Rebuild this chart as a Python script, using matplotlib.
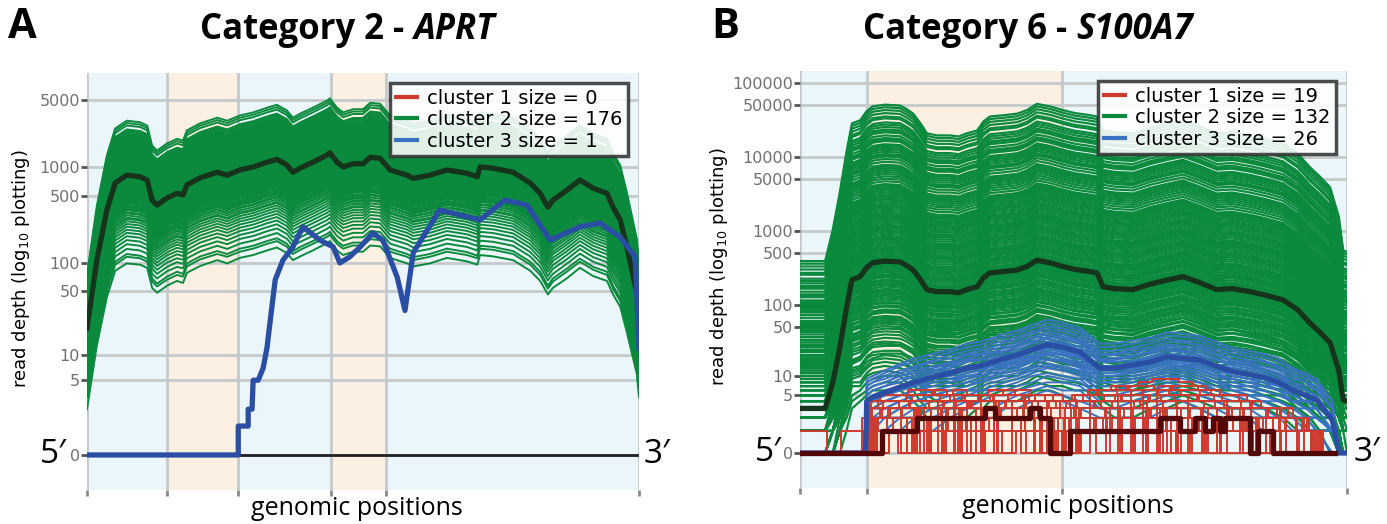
import numpy as np
import matplotlib
matplotlib.use("Agg")
import matplotlib.pyplot as plt
from matplotlib.lines import Line2D
from matplotlib.transforms import blended_transform_factory

# ---------------- data ----------------
# positions are % of gene length (5' -> 3')
# Panel A: Category 2 - APRT
a_bounds = [0, 14.5, 27.4, 44.2, 54.2, 100]
a_shade = ["blue", "orange", "blue", "orange", "blue"]
a_yticks = [0, 5, 10, 50, 100, 500, 1000, 5000]

a_med_pos = [0, 1.8, 3.6, 5.1, 7.2, 9.6, 10.9, 11.8, 12.7, 14.5, 16.3, 17.4, 18.1, 20.5,
             23.6, 25.4, 27.7, 30.1, 32.6, 34.4, 36.2, 37.3, 38.6, 40.9, 43.5, 44.0, 45.3,
             46.4, 48.2, 50.0, 51.3, 53.1, 54.9, 58.0, 59.1, 62.1, 65.2, 68.8, 70.7, 71.2,
             73.6, 77.2, 80.3, 82.1, 83.5, 84.4, 86.9, 89.3, 91.7, 94.2, 95.3, 96.6, 97.8,
             99.6, 100]
a_med_val = [20, 107, 355, 680, 820, 790, 730, 450, 400, 475, 530, 510, 650, 770,
             880, 820, 930, 1000, 1120, 1200, 1050, 880, 970, 1120, 1330, 1400, 1120,
             1000, 1080, 1080, 1260, 1230, 930, 820, 760, 820, 930, 860, 790, 1000,
             970, 880, 680, 530, 380, 450, 570, 730, 600, 530, 380, 280, 146,
             48, 25]

a_green_factors = [
    0.12, 0.14, 0.15, 0.17, 0.19, 0.21, 0.23, 0.25, 0.27, 0.29,
    0.31, 0.33, 0.35, 0.36, 0.38, 0.40, 0.41, 0.43, 0.44, 0.46,
    0.47, 0.48, 0.50, 0.51, 0.52, 0.53, 0.55, 0.56, 0.57, 0.58,
    0.59, 0.60, 0.61, 0.62, 0.63, 0.64, 0.65, 0.66, 0.67, 0.68,
    0.69, 0.70, 0.71, 0.72, 0.73, 0.74, 0.75, 0.76, 0.77, 0.78,
    0.79, 0.80, 0.81, 0.82, 0.83, 0.84, 0.85, 0.86, 0.87, 0.88,
    0.89, 0.90, 0.91, 0.92, 0.93, 0.94, 0.95, 0.96, 0.97, 0.98,
    0.99, 1.00, 1.01, 1.02, 1.03, 1.04, 1.05, 1.06, 1.07, 1.08,
    1.09, 1.10, 1.11, 1.12, 1.13, 1.14, 1.15, 1.16, 1.17, 1.18,
    1.19, 1.20, 1.21, 1.22, 1.23, 1.24, 1.25, 1.26, 1.27, 1.28,
    1.29, 1.30, 1.31, 1.32, 1.33, 1.34, 1.35, 1.36, 1.37, 1.38,
    1.39, 1.40, 1.42, 1.44, 1.46, 1.48, 1.50, 1.52, 1.54, 1.56,
    1.58, 1.60, 1.62, 1.64, 1.66, 1.68, 1.70, 1.72, 1.74, 1.76,
    1.78, 1.80, 1.82, 1.84, 1.86, 1.88, 1.90, 1.92, 1.94, 1.96,
    1.98, 2.00, 2.02, 2.04, 2.06, 2.08, 2.10, 2.12, 2.14, 2.16,
    2.18, 2.20, 2.22, 2.24, 2.26, 2.28, 2.30, 2.32, 2.35, 2.38,
    2.41, 2.44, 2.47, 2.50, 2.55, 2.60, 2.70, 2.80, 3.00, 3.30,
    3.50, 3.70, 2.90, 2.65, 0.45, 0.54]

a_blue_pos = [0, 27.4, 27.4, 29.2, 29.2, 29.9, 30.1, 31.0, 31.9, 32.6, 33.5, 34.1, 35.5,
              37.3, 39.1, 42.2, 44.6, 45.8, 47.6, 49.5, 51.8, 53.6, 56.2, 57.6, 59.1,
              63.9, 71.2, 75.7, 79.7, 83.9, 89.3, 92.9, 96.6, 99.3, 100]
a_blue_val = [0, 0, 1, 1, 2, 2, 5, 5, 7, 12, 34, 66, 106,
              146, 237, 172, 146, 99, 115, 146, 205, 172, 70, 31, 127,
              355, 280, 450, 400, 172, 237, 260, 185, 115, 12]
a_red_pos = [0, 100]
a_red_val = [0, 0]
a_sizes = [0, 176, 1]

# Panel B: Category 6 - S100A7
b_bounds = [0, 12.2, 47.9, 100]
b_shade = ["blue", "orange", "blue"]
b_yticks = [0, 5, 10, 50, 100, 500, 1000, 5000, 10000, 50000, 100000]

b_med_pos = [0, 2.5, 4.6, 6.0, 7.3, 8.5, 9.5, 11.0, 12.2, 13.3, 15.5, 18.3, 19.5, 20.7,
             22.0, 23.2, 25.0, 27.4, 29.0, 30.5, 32.4, 33.5, 34.7, 37.0, 39.7, 41.5,
             43.3, 45.7, 48.0, 50.3, 52.5, 54.3, 55.4, 57.5, 60.9, 64.0, 67.0, 70.0,
             73.0, 76.2, 79.0, 82.3, 85.0, 88.3, 91.0, 93.2, 95.0, 96.9, 98.5, 99.3, 100]
b_med_val = [3, 3, 3, 8, 26, 90, 218, 240, 320, 370, 390, 380, 340, 295,
             220, 160, 150, 150, 145, 160, 175, 230, 270, 280, 295, 330,
             400, 370, 330, 300, 285, 270, 175, 165, 160, 190, 215, 240,
             200, 160, 165, 150, 135, 116, 85, 56, 42, 30, 12, 4.2, 4]

b_green_factors = [
    0.015, 0.02, 0.025, 0.03, 0.035, 0.04, 0.045, 0.05, 0.055, 0.06,
    0.07, 0.075, 0.08, 0.09, 0.1, 0.11, 0.12, 0.13, 0.14, 0.15,
    0.16, 0.17, 0.18, 0.2, 0.21, 0.22, 0.24, 0.25, 0.27, 0.28,
    0.3, 0.32, 0.34, 0.36, 0.38, 0.4, 0.42, 0.45, 0.48, 0.5,
    0.53, 0.56, 0.6, 0.63, 0.66, 0.7, 0.74, 0.78, 0.82, 0.86,
    0.9, 0.95, 1.0, 1.05, 1.1, 1.16, 1.22, 1.3, 1.38, 1.45,
    1.52, 1.6, 1.7, 1.8, 1.9, 2.0, 2.1, 2.2, 2.35, 2.5,
    2.65, 2.8, 2.95, 3.1, 3.3, 3.5, 3.7, 3.9, 4.1, 4.3,
    4.5, 4.8, 5.1, 5.4, 5.7, 6.0, 6.4, 6.8, 7.2, 7.6,
    8.0, 8.5, 9.0, 9.5, 10, 10.5, 11, 12, 13, 14,
    15, 16, 17, 18, 19, 20, 22, 24, 26, 27,
    28, 30, 32, 34, 36, 38, 42, 44, 46, 50,
    55, 58, 60, 65, 70, 75, 85, 90, 100, 110,
    120, 130]

b_blue_pos = [0, 12.0, 12.2, 13.3, 15.5, 18.3, 21.0, 24.3, 27.5, 30.5, 33.0, 35.3, 37.5,
              39.7, 42.5, 45.2, 48.0, 51.2, 54.8, 57.5, 60.9, 64.0, 67.1, 70.0, 73.1,
              76.0, 79.2, 82.0, 84.6, 87.5, 90.1, 92.5, 94.4, 97.3, 98.6, 100]
b_blue_val = [0, 0, 4, 4.7, 5.5, 6.8, 8, 9.6, 11, 13, 14, 16, 18,
              20, 24, 28, 26, 22, 13, 13, 14.5, 16, 19, 18, 17,
              14, 11.5, 10.5, 9.6, 8, 6, 5, 4.2, 1.8, 0, 0]
b_blue_factors = [0.15, 0.2, 0.25, 0.3, 0.35, 0.4, 0.45, 0.5, 0.55, 0.6, 0.65, 0.7, 0.75,
                  0.8, 0.85, 0.9, 1.0, 1.1, 1.2, 1.3, 1.4, 1.5, 1.65, 1.8, 2.0, 2.2]

# red cluster: per-line read depth in 40 equal bins along the gene, with per-line offset
b_red_lines = [
    [1,1,0,1,1, 2,3,3,4,4, 4,5,5,4,4, 3,3,4,4,2, 3,3,4,5,5, 6,6,5,5,4, 4,3,3,2,2, 1,1,1,0,0],
    [0,0,0,0,0, 1,2,2,3,3, 0,3,4,4,3, 3,2,2,3,0, 2,2,3,3,0, 4,4,5,4,4, 3,3,0,2,2, 2,1,0,0,0],
    [0,0,0,0,0, 3,4,4,5,5, 6,5,5,5,6, 6,5,4,4,3, 4,5,6,7,7, 8,9,9,8,7, 6,5,5,4,3, 3,2,1,0,0],
    [0,0,0,0,0, 0,1,1,2,2, 2,0,2,3,3, 2,2,0,1,1, 1,2,2,0,2, 3,3,3,2,0, 2,2,1,1,0, 1,0,0,0,0],
    [0,0,0,0,0, 2,2,3,3,0, 3,4,4,3,3, 4,4,3,0,2, 2,3,4,4,5, 5,4,0,4,4, 3,3,2,2,0, 2,1,1,0,0],
    [0,0,0,0,0, 1,1,0,2,2, 2,2,1,1,2, 2,0,2,1,0, 1,1,2,2,2, 1,0,2,2,1, 1,1,0,1,1, 0,0,0,0,0],
    [0,0,0,0,0, 4,5,5,6,6, 5,5,4,4,5, 6,6,5,4,4, 5,5,6,6,7, 7,6,6,5,5, 5,4,4,3,3, 2,2,1,0,0],
    [0,0,0,0,0, 2,3,0,3,4, 4,3,3,0,3, 3,4,2,2,0, 3,3,0,3,4, 4,5,4,0,3, 3,2,2,0,1, 1,1,0,0,0],
    [0,0,0,0,0, 0,2,2,2,3, 3,3,2,2,2, 3,3,2,0,0, 2,2,2,3,3, 3,2,2,0,2, 2,2,1,1,1, 0,0,0,0,0],
    [0,0,0,0,0, 3,3,4,4,4, 5,0,4,5,5, 5,4,4,3,3, 4,4,5,0,6, 6,7,6,6,5, 4,4,3,3,2, 2,1,1,0,0],
    [0,0,0,0,0, 1,1,2,0,1, 1,2,2,2,1, 0,1,1,1,0, 1,1,1,2,2, 2,2,1,1,1, 0,1,1,0,0, 0,0,0,0,0],
    [0,0,0,0,0, 2,2,3,3,3, 4,4,3,3,0, 4,5,5,4,3, 3,4,4,5,5, 4,4,3,3,0, 3,3,2,2,2, 1,1,0,0,0],
    [0,0,0,0,0, 0,0,1,1,1, 0,1,1,0,1, 1,1,0,0,0, 0,1,1,1,0, 1,1,1,0,1, 1,0,0,0,0, 0,0,0,0,0],
    [0,0,0,0,0, 3,4,4,3,0, 4,4,5,5,4, 3,3,0,4,4, 5,6,6,7,6, 0,6,7,7,6, 5,5,4,3,0, 3,2,1,0,0],
    [0,0,0,0,0, 2,2,2,0,2, 3,3,3,2,2, 2,3,3,2,0, 2,2,3,3,3, 0,3,3,3,2, 2,2,1,1,1, 1,0,0,0,0],
    [0,0,0,0,0, 1,2,2,2,3, 3,0,3,3,3, 2,2,2,0,1, 2,2,0,2,3, 3,3,2,2,2, 0,2,2,1,1, 0,0,0,0,0],
    [0,0,0,0,0, 4,4,4,5,5, 5,6,5,0,5, 4,4,5,5,4, 0,5,5,6,6, 6,5,5,5,4, 4,0,3,3,3, 2,2,1,0,0],
    [0,0,0,0,0, 2,3,3,3,2, 2,3,0,3,3, 3,2,2,2,0, 3,3,3,4,4, 3,3,0,3,3, 2,2,2,2,1, 1,1,0,0,0],
    [0,0,0,0,0, 1,1,1,2,0, 2,2,2,1,1, 1,2,2,1,0, 1,1,2,2,0, 2,2,2,2,1, 1,1,1,0,1, 1,0,0,0,0],
]
b_red_shift = [0.0, 0.9, -0.7, 1.3, -1.1, 0.4, -0.3, 1.0, -0.9, 0.6, -0.5, 1.2, -1.2, 0.2,
               0.8, -0.8, 0.5, -0.4, 1.1]
b_redmed_pos = [0, 15.0, 21.4, 33.8, 35.6, 42.0, 43.9, 45.7, 49.4, 65.8, 69.5, 72.2, 74.0,
                75.5, 76.8, 77.7, 82.3, 83.7, 86.5, 97.8]
b_redmed_val = [0, 1, 2, 3, 2, 3, 2, 0, 1, 2, 1, 2, 1,
                2, 1, 2, 0, 1, 0, 0]
b_sizes = [19, 132, 26]

# ---------------- style ----------------
C_GREEN = "#0b8a3e"
C_BLACK = "#16331b"
C_BLUE = "#3a73c3"
C_BLUE_MED = "#2a4ea3"
C_RED = "#cf3a2e"
C_RED_MED = "#520808"
SHADE = {"blue": "#eaf6f9", "orange": "#fcf0e3"}
GRID = "#c5c9cb"
TICKC = "#707070"
TICK_FONT = ["DejaVu Sans"]
TXT_FONT = ["Open Sans", "DejaVu Sans"]

fwd = lambda v: np.log10(np.maximum(v, -0.999) + 1)
inv = lambda y: 10 ** y - 1

W, H = 1387, 524
fig = plt.figure(figsize=(W / 100, H / 100), dpi=100)


def setup_axes(rect, bounds, shade, yticks, ylog_lim):
    ax = fig.add_axes(rect)
    ax.set_yscale("function", functions=(fwd, inv))
    ax.set_xlim(0, 100)
    ax.set_ylim(inv(ylog_lim[0]), inv(ylog_lim[1]))
    for (x0, x1), s in zip(zip(bounds[:-1], bounds[1:]), shade):
        ax.axvspan(x0, x1, color=SHADE[s], zorder=0, lw=0)
    ax.set_xticks(bounds)
    ax.set_xticklabels([])
    ax.set_yticks(yticks)
    ax.set_yticklabels([str(t) for t in yticks])
    ax.minorticks_off()
    ax.grid(True, color=GRID, lw=2.0, zorder=0.5)
    ax.set_axisbelow(True)
    for sp in ax.spines.values():
        sp.set_visible(False)
    ax.tick_params(axis="y", length=4, width=2, color="#555555", labelcolor=TICKC,
                   labelsize=11.5, pad=1)
    ax.tick_params(axis="x", length=4, width=2, color="#8a8a8a")
    for lab in ax.get_yticklabels():
        lab.set_family(TICK_FONT)
    ax.set_ylabel("read depth (log$_{10}$ plotting)", fontsize=13, family=TICK_FONT)
    return ax


def add_texts(ax, ylab_x, xlab_x):
    ax.yaxis.set_label_coords(ylab_x, 0.53)
    ax.text(xlab_x, -0.045, "genomic positions", transform=ax.transAxes, ha="center",
            va="center", fontsize=18, family=TXT_FONT)


def legend(ax, sizes):
    handles = [Line2D([], [], color=c, lw=3) for c in (C_RED, C_GREEN, C_BLUE)]
    labels = [f"cluster {i + 1} size = {s}" for i, s in enumerate(sizes)]
    leg = ax.legend(handles, labels, loc="upper right", bbox_to_anchor=(0.98, 0.976),
                    borderaxespad=0, handlelength=1.1, handletextpad=0.5,
                    labelspacing=0.12, borderpad=0.3, fancybox=False, framealpha=0.88,
                    edgecolor="#333333", prop={"family": TICK_FONT, "size": 14})
    leg.get_frame().set_linewidth(2.5)
    leg.set_zorder(10)


def primes(ax, left_x, right_x):
    tr = blended_transform_factory(ax.transAxes, ax.transData)
    ax.text(left_x, 0, "5\u2032", transform=tr, ha="center", va="center", fontsize=24,
            family=TXT_FONT)
    ax.text(right_x, 0, "3\u2032", transform=tr, ha="center", va="center", fontsize=24,
            family=TXT_FONT)


# Panel A
axA = setup_axes([87 / W, 1 - 490 / H, 552 / W, 417 / H], a_bounds, a_shade, a_yticks,
                 (-0.365, 3.979))
a_med_pos_arr = np.array(a_med_pos)
a_med_arr = np.array(a_med_val, dtype=float)
for f in a_green_factors:
    axA.plot(a_med_pos_arr, np.round(a_med_arr * f), color=C_GREEN, lw=1.4, zorder=2)
axA.plot(a_med_pos, a_med_val, color=C_BLACK, lw=3.8, zorder=3)
axA.plot(a_red_pos, a_red_val, color="#222222", lw=2, zorder=3)
axA.plot(a_blue_pos, a_blue_val, color=C_BLUE_MED, lw=3.8, zorder=4)
add_texts(axA, -0.10, 0.489)
legend(axA, a_sizes)
primes(axA, -0.062, 1.033)

# Panel B
axB = setup_axes([800 / W, 1 - 488 / H, 547 / W, 417 / H], b_bounds, b_shade, b_yticks,
                 (-0.473, 5.16))
b_med_pos_arr = np.array(b_med_pos)
b_med_arr = np.array(b_med_val, dtype=float)
for f in b_green_factors:
    axB.plot(b_med_pos_arr, np.round(b_med_arr * f), color=C_GREEN, lw=1.6, zorder=2)
b_blue_arr = np.array(b_blue_val, dtype=float)
for f in b_blue_factors:
    axB.plot(b_blue_pos, np.round(b_blue_arr * f), color=C_BLUE, lw=1.4, zorder=2.5)
nb = len(b_red_lines[0])
for line, sh in zip(b_red_lines, b_red_shift):
    edges = np.clip(np.linspace(0, 100, nb + 1) + sh, 0, 100)
    axB.plot(edges, line + [line[-1]], drawstyle="steps-post", color=C_RED, lw=1.4,
             zorder=2.7)
axB.plot(b_med_pos, b_med_val, color=C_BLACK, lw=3.8, zorder=3)
axB.plot(b_blue_pos, b_blue_val, color=C_BLUE_MED, lw=3.8, zorder=4)
axB.plot(b_redmed_pos, b_redmed_val, drawstyle="steps-post", color=C_RED_MED, lw=3.8,
         zorder=5)
add_texts(axB, -0.128, 0.49)
legend(axB, b_sizes)
primes(axB, -0.058, 1.037)

# Titles and panel letters
renderer = fig.canvas.get_renderer()


def title(cx, cy, p1, p2, fs=25):
    t1 = fig.text(0, cy, p1, fontsize=fs, fontweight="bold", family=TXT_FONT,
                  va="center", ha="left")
    t2 = fig.text(0, cy, p2, fontsize=fs, fontweight="bold", style="italic",
                  family=TXT_FONT, va="center", ha="left")
    w1 = t1.get_window_extent(renderer).width
    w2 = t2.get_window_extent(renderer).width
    x0 = cx - (w1 + w2) / 2
    t1.set_x(x0 / W)
    t2.set_x((x0 + w1) / W)


title(347, 1 - 30 / H, "Category 2 - ", "APRT")
title(1028, 1 - 30 / H, "Category 6 - ", "S100A7")
fig.text(22 / W, 1 - 27 / H, "A", fontsize=30, fontweight="bold", family=TXT_FONT,
         ha="center", va="center")
fig.text(725 / W, 1 - 28 / H, "B", fontsize=30, fontweight="bold", family=TXT_FONT,
         ha="center", va="center")

fig.savefig("out.png", dpi=100)
